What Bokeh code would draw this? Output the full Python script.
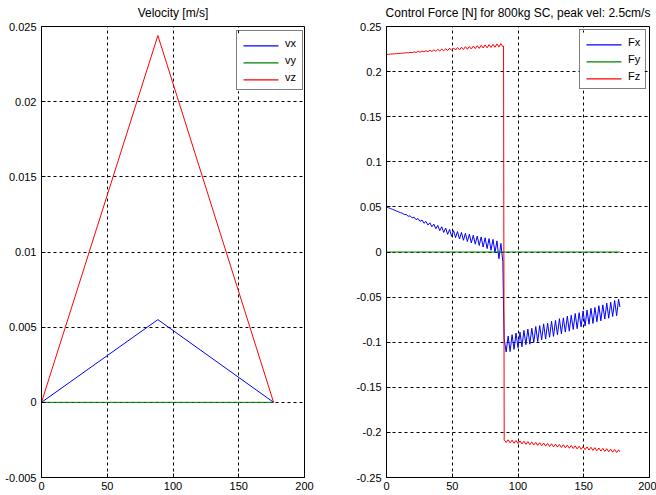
from bokeh.plotting import figure
from bokeh.models import FixedTicker, Legend, LegendItem, Range1d
from bokeh.layouts import row
from bokeh.embed import file_html
from bokeh.resources import INLINE

# ---------------- data ----------------
x_ticks = [0, 50, 100, 150, 200]
x_tick_labels = ["0", "50", "100", "150", "200"]

vel_y_ticks = [-0.005, 0, 0.005, 0.01, 0.015, 0.02, 0.025]
vel_y_labels = ["-0.005", "0", "0.005", "0.01", "0.015", "0.02", "0.025"]

force_y_ticks = [-0.25, -0.2, -0.15, -0.1, -0.05, 0, 0.05, 0.1, 0.15, 0.2, 0.25]
force_y_labels = ["-0.25", "-0.2", "-0.15", "-0.1", "-0.05", "0", "0.05", "0.1", "0.15", "0.2", "0.25"]

vel_series = ["vx", "vy", "vz"]
force_series = ["Fx", "Fy", "Fz"]

t_vel = [0, 88.5, 176.5]
vx = [0, 0.0055, 0]
vy = [0, 0, 0]
vz = [0, 0.0244, 0]

t_force = [0, 1.5, 3, 4.5, 6, 7.5, 9, 10.5, 12, 13.5, 15, 16.5, 18, 19.5, 21, 22.5, 24, 25.5, 27, 28.5,
           30, 31.5, 33, 34.5, 36, 37.5, 39, 40.5, 42, 43.5, 45, 46.5, 48, 49.5, 51, 52.5, 54, 55.5, 57, 58.5,
           60, 61.5, 63, 64.5, 66, 67.5, 69, 70.5, 72, 73.5, 75, 76.5, 78, 79.5, 81, 82.5, 84, 85.5, 87, 88.5,
           89,
           89.5, 91, 92.5, 94, 95.5, 97, 98.5, 100, 101.5, 103, 104.5, 106, 107.5, 109, 110.5, 112, 113.5, 115, 116.5, 118,
           119.5, 121, 122.5, 124, 125.5, 127, 128.5, 130, 131.5, 133, 134.5, 136, 137.5, 139, 140.5, 142, 143.5, 145, 146.5, 148,
           149.5, 151, 152.5, 154, 155.5, 157, 158.5, 160, 161.5, 163, 164.5, 166, 167.5, 169, 170.5, 172, 173.5, 175, 176.5,
           177.5]

Fx = [0.0500, 0.0491, 0.0482, 0.0473, 0.0464, 0.0455, 0.0446, 0.0437, 0.0430, 0.0416,
      0.0416, 0.0396, 0.0401, 0.0378, 0.0386, 0.0359, 0.0371, 0.0339, 0.0355, 0.0319,
      0.0339, 0.0299, 0.0324, 0.0279, 0.0309, 0.0258, 0.0294, 0.0237, 0.0280, 0.0217,
      0.0266, 0.0196, 0.0251, 0.0174, 0.0238, 0.0159, 0.0227, 0.0144, 0.0217, 0.0130,
      0.0207, 0.0116, 0.0197, 0.0101, 0.0186, 0.0087, 0.0176, 0.0072, 0.0167, 0.0055,
      0.0158, 0.0038, 0.0149, 0.0019, 0.0140, -0.0004, 0.0123, -0.0075, 0.0095, -0.0110,
      -0.0620,
      -0.0966, -0.1109, -0.0932, -0.1104, -0.0917, -0.1080, -0.0898, -0.1061, -0.0888, -0.1051,
      -0.0869, -0.1027, -0.0855, -0.1022, -0.0845, -0.1003, -0.0826, -0.0994, -0.0816, -0.0974,
      -0.0797, -0.0965, -0.0788, -0.0945, -0.0768, -0.0936, -0.0759, -0.0917, -0.0739, -0.0907,
      -0.0730, -0.0888, -0.0711, -0.0878, -0.0701, -0.0859, -0.0682, -0.0850, -0.0672, -0.0830,
      -0.0653, -0.0821, -0.0644, -0.0801, -0.0624, -0.0792, -0.0615, -0.0773, -0.0595, -0.0763,
      -0.0586, -0.0744, -0.0567, -0.0734, -0.0557, -0.0715, -0.0538, -0.0706, -0.0523,
      -0.0610]

t_fy = [0, 177.5]
Fy = [0, 0]

Fz = [0.2190, 0.2192, 0.2194, 0.2195, 0.2197, 0.2199, 0.2201, 0.2202, 0.2204, 0.2206,
      0.2210, 0.2207, 0.2214, 0.2210, 0.2219, 0.2213, 0.2223, 0.2215, 0.2228, 0.2218,
      0.2232, 0.2220, 0.2237, 0.2223, 0.2241, 0.2225, 0.2246, 0.2228, 0.2251, 0.2230,
      0.2254, 0.2233, 0.2259, 0.2236, 0.2263, 0.2239, 0.2267, 0.2241, 0.2271, 0.2245,
      0.2276, 0.2248, 0.2279, 0.2251, 0.2283, 0.2255, 0.2287, 0.2257, 0.2291, 0.2261,
      0.2295, 0.2263, 0.2299, 0.2267, 0.2303, 0.2270, 0.2307, 0.2273, 0.2311, 0.2276,
      0.2285,
      -0.2082, -0.2112, -0.2082, -0.2116, -0.2086, -0.2120, -0.2090, -0.2124, -0.2094, -0.2128,
      -0.2098, -0.2132, -0.2102, -0.2136, -0.2106, -0.2140, -0.2110, -0.2144, -0.2114, -0.2148,
      -0.2118, -0.2152, -0.2122, -0.2156, -0.2126, -0.2160, -0.2130, -0.2163, -0.2133, -0.2167,
      -0.2137, -0.2171, -0.2141, -0.2175, -0.2145, -0.2179, -0.2149, -0.2183, -0.2153, -0.2187,
      -0.2157, -0.2191, -0.2161, -0.2195, -0.2165, -0.2199, -0.2169, -0.2203, -0.2173, -0.2207,
      -0.2177, -0.2211, -0.2181, -0.2215, -0.2185, -0.2219, -0.2189, -0.2223, -0.2193,
      -0.2215]

FONT = "Liberation Sans"
COLORS = ["#0000ff", "#008000", "#ff0000"]

# layout (page pixels)
FRAME_TOP, FRAME_BOTTOM = 25, 477
LEG_PAD, LEG_ROW, LEG_SPACING = 5, 14, 3
LEG_GLYPH_W, LEG_STANDOFF, LEG_LABEL_W = 35, 8, 12


def make_fig(title, yr, yticks, ylabels, width, bl, br):
    p = figure(width=width, height=495, x_range=Range1d(0, 200), y_range=Range1d(*yr),
               output_backend="svg", toolbar_location=None,
               min_border_left=bl, min_border_right=br,
               min_border_top=FRAME_TOP, min_border_bottom=495 - FRAME_BOTTOM)
    p.title.text = title
    p.title.align = "center"
    p.title.vertical_align = "top"
    p.title.text_font = FONT
    p.title.text_font_size = "12px"
    p.title.text_font_style = "normal"
    p.title.text_color = "black"
    p.title.standoff = 10
    p.outline_line_color = "black"
    p.outline_line_width = 1
    p.outline_line_alpha = 1
    p.background_fill_color = "white"
    p.border_fill_color = "white"
    for ax, ticks, labels, so in ((p.xaxis[0], x_ticks, x_tick_labels, 4), (p.yaxis[0], yticks, ylabels, 5)):
        ax.ticker = FixedTicker(ticks=ticks)
        ax.major_label_overrides = {t: l for t, l in zip(ticks, labels)}
        ax.major_tick_in = 4
        ax.major_tick_out = 0
        ax.minor_tick_line_color = None
        ax.axis_line_color = "black"
        ax.major_tick_line_color = "black"
        ax.major_label_text_font = FONT
        ax.major_label_text_font_size = "11px"
        ax.major_label_text_color = "black"
        ax.major_label_standoff = so
    p.xgrid.ticker = FixedTicker(ticks=x_ticks)
    p.ygrid.ticker = FixedTicker(ticks=yticks)
    for g in (p.xgrid[0], p.ygrid[0]):
        g.grid_line_color = "black"
        g.grid_line_alpha = 1
        g.grid_line_dash = "3 3"
        g.grid_line_width = 1
    return p


def add_legend(p, names, series, frame_lr, leg_left, leg_top, sw_x0, sw_x1):
    """White legend panel + colour swatches drawn as ordinary glyphs (over the grid);
    bokeh's Legend (transparent) supplies the border and the labels."""
    fl, fr = frame_lr
    xr0, xr1 = p.x_range.start, p.x_range.end
    yr0, yr1 = p.y_range.start, p.y_range.end

    def xd(px):
        return xr0 + (px - fl) / (fr - fl) * (xr1 - xr0)

    def yd(py):
        return yr1 - (py - FRAME_TOP) / (FRAME_BOTTOM - FRAME_TOP) * (yr1 - yr0)

    n = len(names)
    height = 2 * LEG_PAD + n * LEG_ROW + (n - 1) * LEG_SPACING
    width = 2 * LEG_PAD + LEG_GLYPH_W + LEG_STANDOFF + LEG_LABEL_W
    p.quad(left=[xd(leg_left)], right=[xd(leg_left + width)], top=[yd(leg_top)],
           bottom=[yd(leg_top + height)], fill_color="white", fill_alpha=1, line_color=None)

    items = []
    for k, (name, (ts, ys), col) in enumerate(zip(names, series, COLORS)):
        ghost = p.line(ts, ys, line_color=col, line_alpha=0)
        items.append(LegendItem(label=name, renderers=[ghost]))
        # centre the 1px swatch on a pixel row so it renders crisp
        row_px = leg_top + LEG_PAD + LEG_ROW / 2 + k * (LEG_ROW + LEG_SPACING) + 0.5
        p.line([xd(sw_x0), xd(sw_x1)], [yd(row_px), yd(row_px)], line_color=col, line_width=1.2)

    loc = (leg_left - fl, FRAME_BOTTOM - (leg_top + height))
    lg = Legend(items=items, location=loc, border_line_color="black", border_line_width=1,
                background_fill_alpha=0,
                padding=LEG_PAD, spacing=LEG_SPACING, glyph_height=LEG_ROW, glyph_width=LEG_GLYPH_W,
                label_height=LEG_ROW, label_width=LEG_LABEL_W, label_standoff=LEG_STANDOFF, margin=0,
                label_text_font=FONT, label_text_font_size="11px", label_text_color="black")
    p.add_layout(lg)


p1 = make_fig("Velocity [m/s]", (-0.005, 0.025), vel_y_ticks, vel_y_labels, 340, 41, 36)
for ys, c in zip((vx, vy, vz), COLORS):
    p1.line(t_vel, ys, line_color=c, line_width=1)
add_legend(p1, vel_series, [(t_vel, vx), (t_vel, vy), (t_vel, vz)], (41, 304), 236, 32, 243, 278)

p2 = make_fig("Control Force [N] for 800kg SC, peak vel: 2.5cm/s", (-0.25, 0.25), force_y_ticks,
              force_y_labels, 316, 46, 7)
for ts, ys, c in zip((t_force, t_fy, t_force), (Fx, Fy, Fz), COLORS):
    p2.line(ts, ys, line_color=c, line_width=1)
add_legend(p2, force_series, [(t_force, Fx), (t_fy, Fy), (t_force, Fz)], (386, 649), 579, 31, 586, 621)

layout = row(p1, p2)
open("out.html", "w").write(file_html(layout, INLINE))
